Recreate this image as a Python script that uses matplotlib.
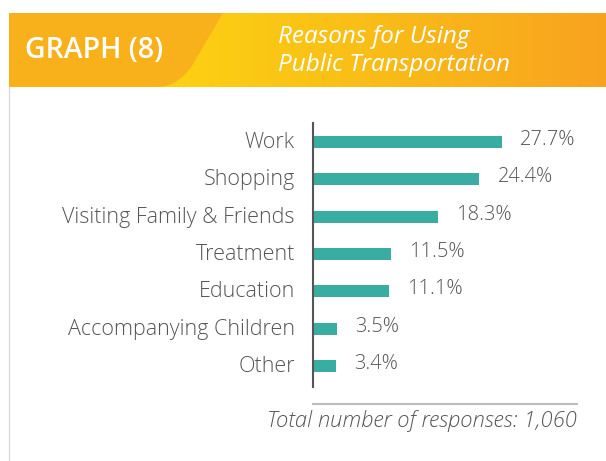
import matplotlib.pyplot as plt
from matplotlib import colors
from matplotlib.patches import Rectangle, PathPatch
from matplotlib.path import Path
from matplotlib.transforms import ScaledTranslation
import numpy as np

# data
categories = ['Work', 'Shopping', 'Visiting Family & Friends', 'Treatment',
              'Education', 'Accompanying Children', 'Other']
values = [27.7, 24.4, 18.3, 11.5, 11.1, 3.5, 3.4]
labels = ['27.7%', '24.4%', '18.3%', '11.5%', '11.1%', '3.5%', '3.4%']

graph_label = 'GRAPH (8)'
title = 'Reasons for Using\nPublic Transportation'
note = 'Total number of responses: 1,060'

W, H = 606, 461
txt = '#555555'
bar_col = '#3AADA3'

plt.rcParams['font.family'] = ['Open Sans', 'DejaVu Sans']

fig = plt.figure(figsize=(W / 100, H / 100), dpi=100)
fig.patch.set_facecolor('white')

# background layer in pixel coords
bg = fig.add_axes([0, 0, 1, 1], zorder=-1)
bg.set_xlim(0, W)
bg.set_ylim(H, 0)
bg.axis('off')

# header band
bg.add_patch(Rectangle((9, 13), W - 9, 74, color='#F9B11B', lw=0, zorder=1))
verts = [(223, 13), (W, 13), (W, 87), (158, 87), (178, 86), (192, 66), (223, 13)]
codes = [Path.MOVETO, Path.LINETO, Path.LINETO, Path.LINETO,
         Path.CURVE3, Path.CURVE3, Path.CLOSEPOLY]
clip = PathPatch(Path(verts, codes), facecolor='none', edgecolor='none')
bg.add_patch(clip)
grad_cmap = colors.LinearSegmentedColormap.from_list('g', ['#FCD212', '#F9BC18', '#F8A31F'])
grad = np.linspace(0, 1, 256).reshape(1, -1)
im = bg.imshow(grad, cmap=grad_cmap, extent=(158, W, 87, 13), aspect='auto', zorder=2)
im.set_clip_path(clip)
bg.set_xlim(0, W)
bg.set_ylim(H, 0)

# card border
bg.plot([9, 9], [87, H], color='#DDDDDD', lw=1)

bg.text(25, 51, graph_label, color='white', fontsize=20.5, fontweight='semibold',
        va='center', ha='left', zorder=3)
bg.text(278, 51, title, color='white', fontsize=17.5, style='italic',
        va='center', ha='left', linespacing=1.25, zorder=3)

# footnote
bg.plot([313, 577], [404, 404], color='#BBBBBB', lw=1.5)
bg.text(577, 421, note, color=txt, fontsize=15.8, style='italic', fontweight='light',
        ha='right', va='center')

# bar chart
ax = fig.add_axes([313 / W, (H - 387) / H, (W - 313) / W, 264 / H])
ax.patch.set_alpha(0)
ypos = np.arange(len(categories))
ax.barh(ypos, values, height=0.32, color=bar_col)
ax.set_xlim(0, (W - 313) / 6.82)
ax.set_ylim(6.56, -0.51)
for s in ['top', 'right', 'bottom']:
    ax.spines[s].set_visible(False)
ax.spines['left'].set_color('#555555')
ax.spines['left'].set_linewidth(1.5)
ax.set_xticks([])
ax.set_yticks(ypos)
ax.set_yticklabels(categories, fontsize=15.5, color=txt, fontweight='light')
ax.tick_params(axis='y', length=0, pad=13)
up = ScaledTranslation(0, 2 / 100, fig.dpi_scale_trans)
for lbl in ax.get_yticklabels():
    lbl.set_transform(lbl.get_transform() + up)

for y, v, l in zip(ypos, values, labels):
    ax.annotate(l, (v, y), xytext=(13, 1.5), textcoords='offset points',
                va='center', ha='left', fontsize=14.5, color=txt, fontweight='light')

plt.savefig('out.png', dpi=100)
